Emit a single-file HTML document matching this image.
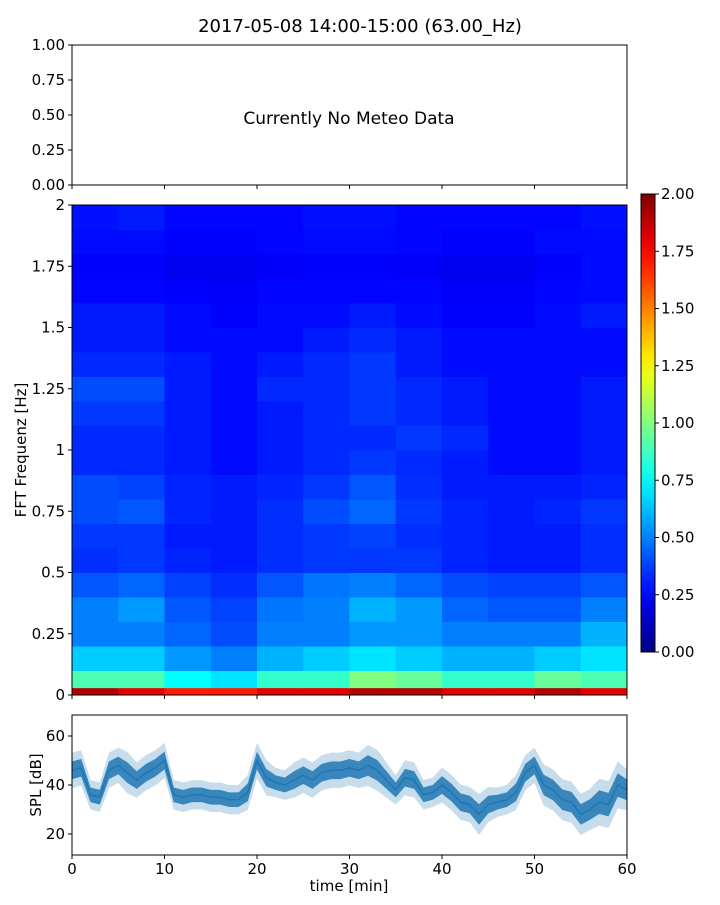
<!DOCTYPE html>
<html><head><meta charset="utf-8">
<style>
body{margin:0;background:#fff;width:720px;height:900px;overflow:hidden;font-family:"Liberation Sans","DejaVu Sans",sans-serif;}
svg text{font-family:"DejaVu Sans","Liberation Sans",sans-serif;fill:#000;}
</style></head><body>
<svg id="chart" width="720" height="900" xmlns="http://www.w3.org/2000/svg">
<text x="360" y="32" font-size="18" text-anchor="middle">2017-05-08 14:00-15:00 (63.00_Hz)</text>
<g id="topPanel"></g>
<g id="spec"></g>
<g id="cbar"></g>
<g id="spl"></g>
</svg>
<script>
const specTimeEdges=[0,5,10,15,20,25,30,35,40,45,50,55,60];
const specFreqEdges=[0,0.03,0.1,0.2,0.3,0.4,0.5,0.6,0.7,0.8,0.9,1.0,1.1,1.2,1.3,1.4,1.5,1.6,1.7,1.8,1.9,2.0];
const specValues=[
[1.9,1.8,1.7,1.7,1.8,1.8,1.9,1.9,1.8,1.8,1.9,1.8],
[0.9,0.9,0.75,0.7,0.85,0.85,1.0,0.95,0.85,0.85,0.95,0.9],
[0.65,0.65,0.55,0.5,0.6,0.65,0.7,0.65,0.6,0.6,0.65,0.7],
[0.5,0.5,0.45,0.4,0.5,0.5,0.55,0.55,0.5,0.5,0.5,0.6],
[0.5,0.55,0.42,0.38,0.48,0.5,0.6,0.55,0.45,0.42,0.42,0.5],
[0.42,0.45,0.38,0.34,0.42,0.48,0.5,0.45,0.4,0.38,0.38,0.42],
[0.34,0.36,0.32,0.3,0.34,0.36,0.36,0.36,0.32,0.3,0.3,0.34],
[0.36,0.36,0.3,0.3,0.34,0.36,0.38,0.34,0.32,0.3,0.3,0.34],
[0.4,0.42,0.32,0.3,0.34,0.4,0.45,0.36,0.32,0.3,0.32,0.36],
[0.4,0.38,0.32,0.3,0.32,0.36,0.42,0.34,0.3,0.3,0.3,0.32],
[0.33,0.33,0.3,0.27,0.3,0.33,0.36,0.33,0.3,0.27,0.27,0.3],
[0.33,0.33,0.3,0.27,0.3,0.33,0.33,0.36,0.33,0.27,0.27,0.3],
[0.36,0.36,0.3,0.27,0.3,0.33,0.36,0.33,0.3,0.27,0.27,0.3],
[0.4,0.4,0.3,0.27,0.33,0.33,0.36,0.33,0.3,0.27,0.27,0.3],
[0.33,0.33,0.3,0.27,0.3,0.33,0.36,0.3,0.27,0.27,0.27,0.27],
[0.3,0.3,0.27,0.27,0.27,0.3,0.33,0.3,0.27,0.27,0.27,0.27],
[0.3,0.3,0.27,0.25,0.27,0.27,0.3,0.27,0.25,0.25,0.27,0.3],
[0.26,0.26,0.25,0.24,0.26,0.26,0.26,0.26,0.24,0.24,0.26,0.27],
[0.25,0.25,0.22,0.22,0.24,0.25,0.25,0.24,0.22,0.22,0.25,0.27],
[0.27,0.27,0.25,0.25,0.26,0.27,0.27,0.26,0.25,0.25,0.27,0.27],
[0.28,0.3,0.26,0.26,0.26,0.28,0.28,0.26,0.26,0.26,0.26,0.28]];
const splTimes=[0,1,2,3,4,5,6,7,8,9,10,11,12,13,14,15,16,17,18,19,20,21,22,23,24,25,26,27,28,29,30,31,32,33,34,35,36,37,38,39,40,41,42,43,44,45,46,47,48,49,50,51,52,53,54,55,56,57,58,59,60];
const splMean=[46,47,36,35,46,48,45,42,45,47,50,36,35,36,36,35,35,34,34,37,50,43,41,40,42,44,42,45,46,46,47,46,48,46,42,38,43,42,36,37,40,37,33,32,28,32,33,34,37,45,48,40,38,34,33,28,30,33,32,40,38];
const splSpread=[6,6,5,5,6,6,7,6,6,6,6,5,5,5,5,5,5,5,5,6,6,6,5,5,6,6,6,6,6,6,6,6,7,7,6,5,6,6,5,5,6,6,6,6,7,6,5,5,6,6,6,7,7,7,7,7,7,8,8,8,7];
const metTicks=["0.00","0.25","0.50","0.75","1.00"];
const freqTicks=[0,0.25,0.5,0.75,1,1.25,1.5,1.75,2];
const freqTickLabels=["0","0.25","0.5","0.75","1","1.25","1.5","1.75","2"];
const cbarTicks=["0.00","0.25","0.50","0.75","1.00","1.25","1.50","1.75","2.00"];
const timeTicks=[0,10,20,30,40,50,60];
const splTicks=[20,40,60];

const NS="http://www.w3.org/2000/svg";
function mk(parent,tag,attrs,txt){const e=document.createElementNS(NS,tag);for(const k in attrs)e.setAttribute(k,attrs[k]);if(txt!==undefined)e.textContent=txt;parent.appendChild(e);return e;}
function jet(v){v=Math.max(0,Math.min(1,v));
 const c=x=>Math.round(255*Math.max(0,Math.min(1,x)));
 return `rgb(${c(1.5-Math.abs(4*v-3))},${c(1.5-Math.abs(4*v-2))},${c(1.5-Math.abs(4*v-1))})`;}
const X0=72,X1=627;
const xT=t=>X0+(X1-X0)*t/60;

// top panel
const topG=document.getElementById('topPanel');
const tY=v=>185-140*v;
mk(topG,'rect',{x:X0,y:45,width:X1-X0,height:140,fill:'none',stroke:'#000','stroke-width':1,});
metTicks.forEach(s=>{const y=tY(parseFloat(s));mk(topG,'line',{x1:X0-4,x2:X0,y1:y,y2:y,stroke:'#000'});
 const t=mk(topG,'text',{x:X0-7,y:y+5,'font-size':15,'text-anchor':'end'},s);
 
 });
timeTicks.forEach(v=>mk(topG,'line',{x1:xT(v),x2:xT(v),y1:185,y2:189,stroke:'#000'}));
mk(topG,'text',{x:349,y:124,'font-size':17,'text-anchor':'middle',},'Currently No Meteo Data');

// spectrogram
const sp=document.getElementById('spec');
const fY=f=>695-245*f;
specValues.forEach((row,i)=>row.forEach((v,j)=>{
 const r=mk(sp,'rect',{x:xT(specTimeEdges[j]),y:fY(specFreqEdges[i+1]),width:xT(specTimeEdges[j+1])-xT(specTimeEdges[j])+0.5,height:fY(specFreqEdges[i])-fY(specFreqEdges[i+1])+0.5,fill:jet(v/2)});
 
 
}));
mk(sp,'rect',{x:X0,y:205,width:X1-X0,height:490,fill:'none',stroke:'#000',});
freqTicks.forEach((f,i)=>{const y=fY(f);mk(sp,'line',{x1:X0-4,x2:X0,y1:y,y2:y,stroke:'#000'});
 const t=mk(sp,'text',{x:X0-7,y:y+5,'font-size':15,'text-anchor':'end'},freqTickLabels[i]);
 
 });
timeTicks.forEach(v=>mk(sp,'line',{x1:xT(v),x2:xT(v),y1:695,y2:699,stroke:'#000'}));
mk(sp,'text',{x:26,y:450,'font-size':15,'text-anchor':'middle',transform:'rotate(-90 26 450)',},'FFT Frequenz [Hz]');

// colorbar
const cb=document.getElementById('cbar');
const defs=mk(cb,'defs',{});const g=mk(defs,'linearGradient',{id:'jg',x1:0,y1:1,x2:0,y2:0});
for(let k=0;k<=20;k++)mk(g,'stop',{offset:k/20,'stop-color':jet(k/20)});
mk(cb,'rect',{x:641,y:194,width:14,height:458,fill:'url(#jg)',stroke:'#000',});
cbarTicks.forEach(s=>{const y=652-229*parseFloat(s);mk(cb,'line',{x1:655,x2:659,y1:y,y2:y,stroke:'#000'});
 const t=mk(cb,'text',{x:661,y:y+5,'font-size':15},s);
 
 });

// SPL
const spl=document.getElementById('spl');
const sY=d=>834-2.45*(d-20);
let up=[],dn=[],up2=[],dn2=[],mid=[];
splTimes.forEach((t,i)=>{const x=xT(t);up.push(x+','+sY(splMean[i]+splSpread[i]*0.6));dn.unshift(x+','+sY(splMean[i]-splSpread[i]*0.6));
 up2.push(x+','+sY(splMean[i]+splSpread[i]*1.2));dn2.unshift(x+','+sY(splMean[i]-splSpread[i]*1.2));mid.push(x+','+sY(splMean[i]));});
mk(spl,'polygon',{points:up2.concat(dn2).join(' '),fill:'#1f77b4','fill-opacity':0.25,});
mk(spl,'polygon',{points:up.concat(dn).join(' '),fill:'#1f77b4','fill-opacity':0.85,});
mk(spl,'polyline',{points:mid.join(' '),fill:'none',stroke:'#1f77b4','stroke-width':1.5,});
mk(spl,'rect',{x:X0,y:715,width:X1-X0,height:140,fill:'none',stroke:'#000',});
splTicks.forEach(d=>{const y=sY(d);mk(spl,'line',{x1:X0-4,x2:X0,y1:y,y2:y,stroke:'#000'});
 const t=mk(spl,'text',{x:X0-7,y:y+5,'font-size':15,'text-anchor':'end'},String(d));
 
 });
timeTicks.forEach(v=>{mk(spl,'line',{x1:xT(v),x2:xT(v),y1:855,y2:859,stroke:'#000'});
 const t=mk(spl,'text',{x:xT(v),y:874,'font-size':15,'text-anchor':'middle'},String(v));
 
 });
mk(spl,'text',{x:349,y:891,'font-size':15,'text-anchor':'middle',},'time [min]');
mk(spl,'text',{x:41,y:785,'font-size':15,'text-anchor':'middle',transform:'rotate(-90 41 785)',},'SPL [dB]');
</script>
</body></html>
